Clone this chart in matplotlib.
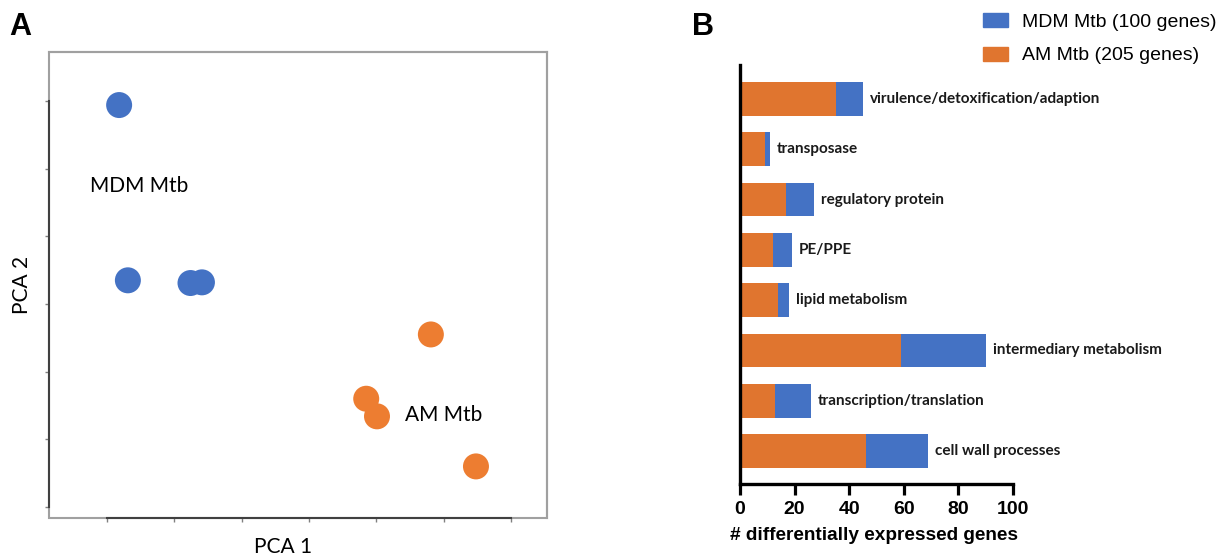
import matplotlib.pyplot as plt
from matplotlib.patches import Rectangle, Patch

# panel A: PCA scores
mdm_pc1 = [-2.82, -2.69, -1.76, -1.59]
mdm_pc2 = [2.94, 0.35, 0.31, 0.32]
am_pc1 = [1.81, 0.85, 1.01, 2.48]
am_pc2 = [-0.45, -1.40, -1.66, -2.40]
pca_ticks = [-3, -2, -1, 0, 1, 2, 3]

# panel B: differentially expressed genes per category
categories = ["virulence/detoxification/adaption", "transposase", "regulatory protein",
              "PE/PPE", "lipid metabolism", "intermediary metabolism",
              "transcription/translation", "cell wall processes"]
am_counts = [35, 9, 17, 12, 14, 59, 13, 46]
mdm_counts = [10, 2, 10, 7, 4, 31, 13, 23]
x_ticks = [0, 20, 40, 60, 80, 100]

blue = "#4472C4"
orange_a = "#ED7D31"
orange_b = "#E0752F"
W, H = 1230, 557

fig = plt.figure(figsize=(12.3, 5.57), dpi=100)

# ---- panel A
axA = fig.add_axes([48.5 / W, 1 - 517.5 / H, 498.5 / W, 465.5 / H])
axA.scatter(mdm_pc1, mdm_pc2, s=350, color=blue, edgecolors="none", zorder=3)
axA.scatter(am_pc1, am_pc2, s=350, color=orange_a, edgecolors="none", zorder=3)
axA.set_xlim(-3.869, 3.535)
axA.set_ylim(-3.155, 3.724)
axA.set_xticks(pca_ticks)
axA.set_yticks(pca_ticks)
axA.set_xticklabels([])
axA.set_yticklabels([])
axA.tick_params(direction="out", length=3, width=1, color="#808080")
for side in ["top", "right"]:
    axA.spines[side].set_color("#a0a0a0")
    axA.spines[side].set_linewidth(1.5)
for side in ["left", "bottom"]:
    axA.spines[side].set_color("#404040")
    axA.spines[side].set_linewidth(1.5)
axA.spines["left"].set_bounds(min(pca_ticks), max(pca_ticks))
axA.spines["bottom"].set_bounds(min(pca_ticks), max(pca_ticks))
axA.add_patch(Rectangle((0, 0), 1, 1, transform=axA.transAxes, fill=False,
                        edgecolor="#a0a0a0", lw=1.5, clip_on=False, zorder=1))

axA.text(0.0824, 0.712, "MDM Mtb", transform=axA.transAxes, fontsize=15,
         family="Lato", va="center", ha="left")
axA.text(0.715, 0.220, "AM Mtb", transform=axA.transAxes, fontsize=15,
         family="Lato", va="center", ha="left")
fig.text(22 / W, 1 - 285 / H, "PCA 2", rotation=90, fontsize=15, family="Lato",
         ha="center", va="center")
fig.text(283 / W, 1 - 553 / H, "PCA 1", fontsize=15, family="Lato",
         ha="center", va="baseline")
fig.text(9 / W, 1 - 12 / H, "A", fontsize=22, fontweight="bold",
         family="Liberation Sans", ha="left", va="top")
fig.text(692 / W, 1 - 12 / H, "B", fontsize=22, fontweight="bold",
         family="Liberation Sans", ha="left", va="top")

# ---- panel B
axB = fig.add_axes([740 / W, 1 - 484 / H, 273 / W, 419 / H])
ypos = list(range(len(categories) - 1, -1, -1))
axB.barh(ypos, am_counts, height=0.67, color=orange_b, label="AM Mtb (205 genes)")
axB.barh(ypos, mdm_counts, left=am_counts, height=0.67, color=blue,
         label="MDM Mtb (100 genes)")
for y, a, m, name in zip(ypos, am_counts, mdm_counts, categories):
    axB.annotate(name, (a + m, y), xytext=(5, 0), textcoords="offset points",
                 va="center", ha="left", fontsize=11, fontweight="bold",
                 family="Lato", color="#1a1a1a", annotation_clip=False)
axB.set_xlim(0, 100)
axB.set_ylim(-0.656, 7.676)
axB.set_xticks(x_ticks)
axB.set_yticks([])
axB.set_xticklabels([str(t) for t in x_ticks], fontsize=14, fontweight="bold",
                    family="Liberation Sans")
axB.tick_params(axis="x", direction="out", length=8, width=2.3, pad=4)
for side in ["top", "right"]:
    axB.spines[side].set_visible(False)
for side in ["left", "bottom"]:
    axB.spines[side].set_linewidth(2.4)
fig.text(874 / W, 1 - 535 / H, "# differentially expressed genes", fontsize=13.7,
         fontweight="bold", family="Liberation Sans", ha="center", va="center")

handles = [Patch(color=blue, label="MDM Mtb (100 genes)"),
           Patch(color=orange_b, label="AM Mtb (205 genes)")]
fig.legend(handles=handles, loc="upper left", bbox_to_anchor=(983 / W, 1 - 13 / H),
           frameon=False, prop={"family": "Liberation Sans", "size": 14},
           handlelength=1.3, handleheight=0.72, handletextpad=0.72, labelspacing=0.82,
           borderaxespad=0, borderpad=0)

fig.savefig("out.png", dpi=100)
